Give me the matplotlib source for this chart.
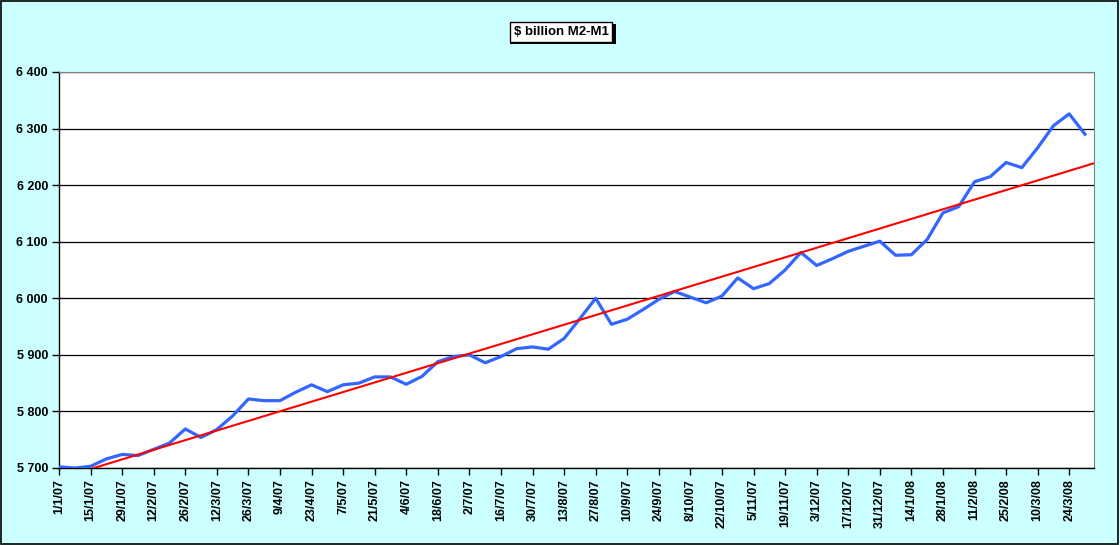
import numpy as np
import pandas as pd
import matplotlib
matplotlib.use('Agg')
import matplotlib.pyplot as plt
from matplotlib.patches import Rectangle

# weekly M2-M1, $ billion
weeks = pd.date_range('2007-01-01', periods=66, freq='7D')
labels = [f"{d.day}/{d.month}/{d:%y}" for d in weeks]
values = [5702, 5700, 5703, 5716, 5724, 5722, 5733, 5744, 5769, 5754,
          5768, 5792, 5822, 5819, 5819, 5834, 5847, 5835, 5847, 5850,
          5861, 5861, 5848, 5862, 5888, 5897, 5900, 5886, 5897, 5911,
          5914, 5910, 5929, 5964, 6000, 5954, 5963, 5980, 5998, 6012,
          6002, 5992, 6004, 6036, 6017, 6026, 6050, 6081, 6058, 6070,
          6083, 6092, 6101, 6076, 6077, 6104, 6151, 6162, 6206, 6215,
          6240, 6231, 6266, 6305, 6326, 6290]

plt.rcParams['font.family'] = ['Liberation Sans', 'DejaVu Sans']

fig = plt.figure(figsize=(11.2, 5.45), dpi=100, facecolor='#CCFFFF')
fig.patches.append(Rectangle((0.0005, 0.001), 0.998, 0.997, transform=fig.transFigure,
                             fill=False, edgecolor='black', linewidth=1.2))

ax = fig.add_axes([59 / 1120, 77 / 545, (1094 - 59) / 1120, (468 - 72) / 545])
ax.set_facecolor('white')

x = np.arange(len(values))
ax.plot(x, values, color='#3366FF', linewidth=2.3, zorder=3)

# linear trend
k, b = np.polyfit(x, values, 1)
xt = np.array([0, 65.57])
ax.plot(xt, k * xt + b, color='#FF0000', linewidth=1.5, zorder=4)

ax.set_xlim(0, 65.57)
ax.set_ylim(5700, 6400)
ax.set_yticks(range(5700, 6401, 100))
ax.set_yticklabels([f"{v // 1000} {v % 1000:03d}" for v in range(5700, 6401, 100)],
                   fontsize=9, fontweight='bold')
ax.set_xticks(x[::2])
ax.set_xticklabels(labels[::2], rotation=90, fontsize=9, fontweight='bold')
ax.grid(axis='y', color='black', linewidth=0.9)
ax.set_axisbelow(True)
ax.tick_params(direction='out', length=5, width=1, color='black', pad=3)

for s in ['top', 'right']:
    ax.spines[s].set_color('#808080')
for s in ['left', 'bottom']:
    ax.spines[s].set_color('black')
    ax.spines[s].set_linewidth(1)

# title box with shadow
fig.text(561 / 1120, 1 - 32 / 545, '$ billion M2-M1', ha='center', va='center',
         fontsize=9.5, fontweight='bold',
         bbox=dict(boxstyle='square,pad=0.3', facecolor='white', edgecolor='black', linewidth=1))
fig.patches.append(Rectangle((510 / 1120, 1 - 44 / 545), 106 / 1120, 20 / 545,
                             transform=fig.transFigure, facecolor='black', zorder=0))

fig.savefig('out.png', dpi=100, facecolor=fig.get_facecolor())
